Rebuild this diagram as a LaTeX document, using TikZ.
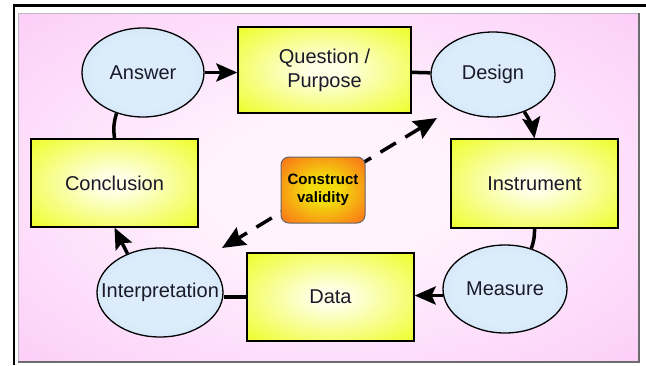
\documentclass[tikz,border=0pt]{standalone}
\usepackage{fontspec}
\setmainfont{Liberation Sans}
\usetikzlibrary{shapes.geometric,arrows.meta}

\definecolor{inktext}{HTML}{1A1A28}
\definecolor{panelin}{HTML}{FFF3FE}
\definecolor{panelout}{HTML}{FAB6F4}
\definecolor{boxin}{HTML}{FFFFE6}
\definecolor{boxout}{HTML}{EAFD00}
\definecolor{ovalin}{HTML}{DCECFB}
\definecolor{ovalout}{HTML}{BCD6F0}
\definecolor{cvin}{HTML}{F2DA0C}
\definecolor{cvout}{HTML}{FF4A1E}

\pgfdeclareradialshading{panelshade}{\pgfpoint{0bp}{0bp}}{color(0bp)=(panelin); color(10bp)=(panelin); color(52bp)=(panelout); color(100bp)=(panelout)}
\pgfdeclareradialshading{boxshade}{\pgfpoint{0bp}{0bp}}{color(0bp)=(boxin); color(5bp)=(boxin); color(42bp)=(boxout); color(100bp)=(boxout)}
\pgfdeclareradialshading{ovalshade}{\pgfpoint{0bp}{0bp}}{color(0bp)=(ovalin); color(20bp)=(ovalin); color(50bp)=(ovalout); color(100bp)=(ovalout)}
\pgfdeclareradialshading{cvshade}{\pgfpoint{0bp}{0bp}}{color(0bp)=(cvin); color(10bp)=(cvin); color(44bp)=(cvout); color(100bp)=(cvout)}

\pgfdeclarelayer{panel}
\pgfdeclarelayer{edges}
\pgfsetlayers{panel,edges,main}

\tikzset{
  bigtext/.style={font=\fontsize{20}{24}\selectfont, text=inktext},
  oval/.style={ellipse, draw=black, line width=1.3pt, shading=ovalshade, inner sep=0pt, bigtext},
  stepbox/.style={rectangle, draw=black, line width=1.3pt, shading=boxshade, inner sep=0pt, align=center, bigtext},
  cvbox/.style={rectangle, rounded corners=8pt, draw=black!60, line width=1pt, shading=cvshade, inner sep=0pt, align=center,
                font=\fontsize{15}{18}\selectfont\bfseries, text=black},
  conn/.style={line width=3.5pt, black},
  tip/.style={-{Stealth[length=21pt,width=18pt,inset=4pt]}},
  arr/.style={conn, tip},
  dasharr/.style={conn, dash pattern=on 18pt off 11pt,
                  {Stealth[length=23pt,width=20pt,inset=3pt]}-{Stealth[length=23pt,width=20pt,inset=3pt]}}
}

\begin{document}
\begin{tikzpicture}[x=1pt, y=-1pt]
\useasboundingbox (0,0) rectangle (646,365);

% page frame
\draw[line width=2.6pt, line join=miter] (14,365) -- (14,5.3) -- (646,5.3);

% shaded panel
\begin{pgfonlayer}{panel}
  \fill[shading=panelshade] (18,13) rectangle (639,362);
  \draw[gray!55, line width=0.8pt] (18,362) -- (18,13) -- (639,13);
  \draw[gray!85!black, line width=1.6pt] (639,13) -- (639,362) -- (18,362);
\end{pgfonlayer}

% stages of the cycle
\node[oval, minimum width=122pt, minimum height=89pt] (ans) at (143,72.5) {\makebox[0pt]{Answer}};
\node[stepbox, minimum width=173pt, minimum height=86pt] (question) at (324.5,70) {Question /\\Purpose};
\node[oval, minimum width=124pt, minimum height=85pt] (design) at (493,74.5) {\makebox[0pt]{Design}};
\node[stepbox, minimum width=167pt, minimum height=89pt] (instrument) at (534.5,183.5) {Instrument};
\node[oval, minimum width=124pt, minimum height=88pt] (measure) at (505,289) {\makebox[0pt]{Measure}};
\node[stepbox, minimum width=167pt, minimum height=88pt] (data) at (330.5,297) {Data};
\node[oval, minimum width=126pt, minimum height=89pt] (interp) at (160,292.5) {\makebox[0pt]{Interpretation}};
\node[stepbox, minimum width=167pt, minimum height=88pt] (conclusion) at (114.5,183) {Conclusion};
\node[cvbox, minimum width=84pt, minimum height=66pt] (cv) at (323,190) {Construct\\validity};

\coordinate (dashtop) at (437,118);
\coordinate (dashbot) at (222,248);

% connectors
\begin{pgfonlayer}{edges}
  \draw[arr] (ans.east) -- (ans.east -| question.west);
  \draw[conn] (question) -- (design);
  \draw[arr] (design.-50) to[bend left=12] (instrument.north);
  \draw[conn] (instrument.south) to[bend left=10] (measure.57);
  \draw[arr] (measure.186) -- (measure.186 -| data.east);
  \draw[conn] (data.west) -- (data.west -| interp.east);
  \draw[arr] (interp.130) -- (conclusion.south);
  \draw[conn] (conclusion.north) to[bend left=12] (ans.237);
  \draw[dasharr] (dashtop) -- (dashbot);
\end{pgfonlayer}
\end{tikzpicture}
\end{document}
